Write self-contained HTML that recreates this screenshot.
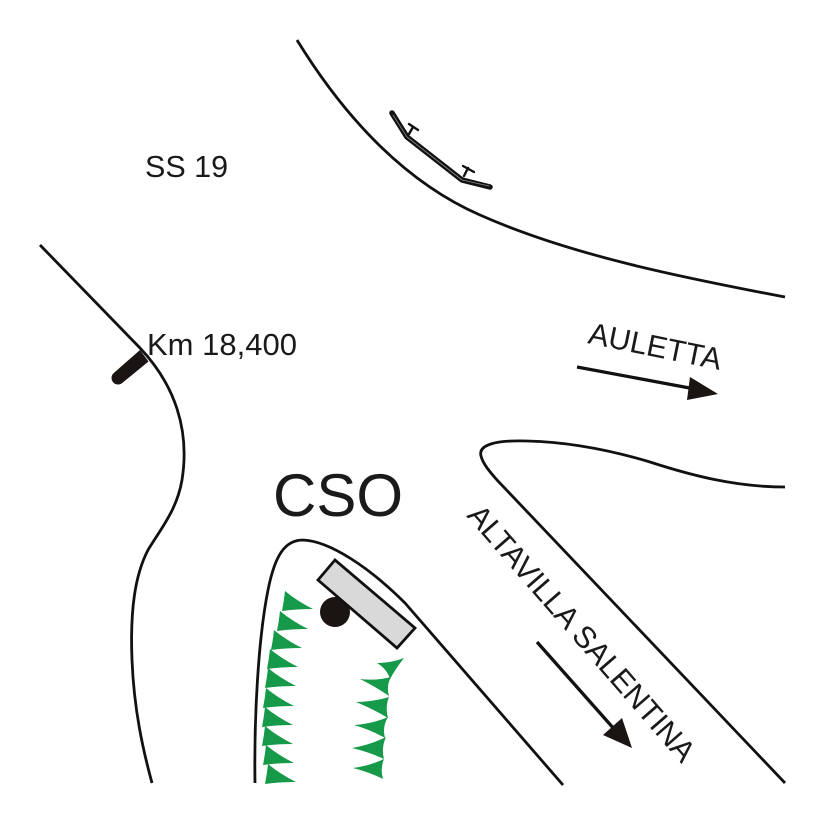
<!DOCTYPE html>
<html>
<head>
<meta charset="utf-8">
<style>
  html, body { margin: 0; padding: 0; background: #ffffff; }
  svg { display: block; }
  text { font-family: "Liberation Sans", Arial, sans-serif; fill: #1a1a1a; }
</style>
</head>
<body>
<svg width="826" height="826" viewBox="0 0 826 826" xmlns="http://www.w3.org/2000/svg">
  <rect width="826" height="826" fill="#ffffff"/>

  <g fill="none" stroke="#111" stroke-width="2.8" stroke-linecap="butt" stroke-linejoin="round">
    <!-- top curve -->
    <path d="M297,40 C340,110 400,180 480,215 C570,255 680,277 785,297"/>
    <!-- left outer road -->
    <path d="M40,245 L140,348 C175,385 190,430 182,480 C177,510 160,530 148,550 C135,575 130,610 132,660 C134,710 143,750 152,783"/>
    <!-- hairpin right -->
    <path d="M785,487 C735,487 690,475 650,462 C610,450 570,442 527,441 C495,440 478,445 481,456 C483,464 490,472 497,480 L785,783"/>
    <!-- inner CSO road -->
    <path d="M255,783 C254,720 258,640 268,590 C275,555 285,540 303,540 C330,541 370,568 405,603 L563,785"/>
  </g>

  <!-- guardrail -->
  <g fill="none" stroke-linecap="round" stroke-linejoin="round">
    <path d="M392,113 L407,137 L462,180 L490,187" stroke="#111" stroke-width="5.5"/>
    <path d="M393,115 L407,137 L462,180 L489,186" stroke="#888" stroke-width="0.8"/>
    <path d="M409,134 L413,127 M409,124 L418,130" stroke="#111" stroke-width="2.4"/>
    <path d="M464,176 L468,168 M463,166 L474,172" stroke="#111" stroke-width="2.4"/>
  </g>

  <!-- Km marker -->
  <polygon points="140,350 148.5,361.5 122.2,383 113.8,373" fill="#1a1412"/>
  <circle cx="118" cy="378" r="6.5" fill="#1a1412"/>

  <!-- texts -->
  <text x="145" y="177" font-size="30.5">SS 19</text>
  <text x="147" y="355" font-size="31">Km 18,400</text>
  <text x="273" y="516" font-size="60">CSO</text>
  <text x="587" y="343" font-size="30.5" transform="rotate(11.5 587 343)">AULETTA</text>
  <text x="466" y="516" font-size="30.5" transform="rotate(49 466 516)">ALTAVILLA SALENTINA</text>

  <!-- arrows -->
  <line x1="577" y1="367" x2="695" y2="389" stroke="#111" stroke-width="3.3"/>
  <polygon points="718,394 690,377 687,400" fill="#1a1412"/>
  <line x1="537" y1="642" x2="615" y2="730" stroke="#111" stroke-width="3.3"/>
  <polygon points="632,748 603,735 622,718" fill="#1a1412"/>

  <!-- CSO symbol -->
  <circle cx="335" cy="612" r="15" fill="#1a1412"/>
  <polygon points="318,580 335,560 415,628 397,648" fill="#d9d9d9" stroke="#111" stroke-width="2.8" stroke-linejoin="miter"/>

  <!-- green teeth left column -->
  <g fill="#17994a">
    <path transform="translate(282,611)" d="M3,-20 Q15,-10 31,-2 Q14,-2 0,0 Q2,-10 3,-20Z"/>
    <path transform="translate(277,631)" d="M3,-20 Q15,-10 31,-2 Q14,-2 0,0 Q2,-10 3,-20Z"/>
    <path transform="translate(271,650)" d="M3,-20 Q15,-10 31,-2 Q14,-2 0,0 Q2,-10 3,-20Z"/>
    <path transform="translate(267,669)" d="M3,-20 Q15,-10 31,-2 Q14,-2 0,0 Q2,-10 3,-20Z"/>
    <path transform="translate(265,688)" d="M3,-20 Q15,-10 31,-2 Q14,-2 0,0 Q2,-10 3,-20Z"/>
    <path transform="translate(263,708)" d="M3,-20 Q15,-10 31,-2 Q14,-2 0,0 Q2,-10 3,-20Z"/>
    <path transform="translate(262,727)" d="M3,-20 Q15,-10 31,-2 Q14,-2 0,0 Q2,-10 3,-20Z"/>
    <path transform="translate(262,746)" d="M3,-20 Q15,-10 31,-2 Q14,-2 0,0 Q2,-10 3,-20Z"/>
    <path transform="translate(263,765)" d="M3,-20 Q15,-10 31,-2 Q14,-2 0,0 Q2,-10 3,-20Z"/>
    <path transform="translate(265,784)" d="M3,-20 Q15,-10 31,-2 Q14,-2 0,0 Q2,-10 3,-20Z"/>
  </g>

  <!-- green teeth right column -->
  <g fill="#17994a">
    <path d="M404,658 Q391,663 377,663 Q387,669 390,679 Q396,668 404,658Z"/>
    <path d="M391,677 Q376,681 360,679 Q376,687 389,696 Q386,686 391,677Z"/>
    <path d="M389,697 Q373,702 356,702 Q373,709 388,718 Q385,707 389,697Z"/>
    <path d="M388,717 Q372,724 354,725 Q371,730 385,738 Q382,727 388,717Z"/>
    <path d="M386,737 Q370,745 352,748 Q369,752 384,759 Q381,748 386,737Z"/>
    <path d="M384,759 Q369,766 353,768 Q369,772 383,779 Q380,769 384,759Z"/>
  </g>
</svg>
</body>
</html>
